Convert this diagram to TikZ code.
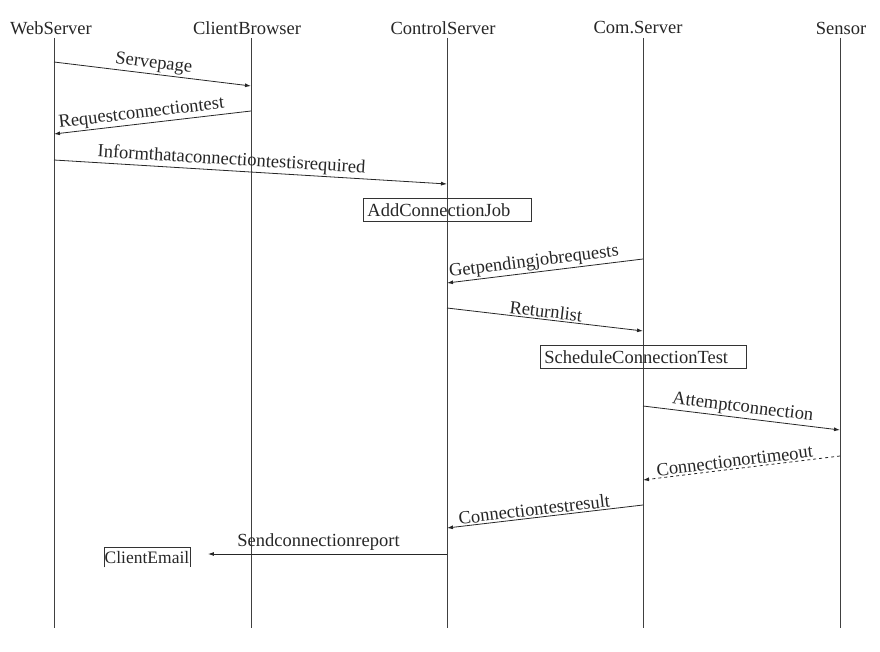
\documentclass[tikz,border=0pt]{standalone}
\usepackage{fontspec}
\setmainfont{Liberation Serif}
\usetikzlibrary{arrows.meta}
\begin{document}
\begin{tikzpicture}[x=1pt,y=-1pt,
  every node/.style={font=\fontsize{18.5}{21}\selectfont, text=black!85},
  life/.style={draw=black!75, line width=0.9pt},
  msg/.style={draw=black!85, line width=0.8pt, -{Latex[length=6pt,width=4pt]}},
  lbl/.style={sloped, above, inner sep=1.5pt},
  actbox/.style={draw=black!80, line width=0.8pt, align=left, inner sep=4pt, minimum height=23pt, anchor=north west},
  head/.style={inner sep=0pt}]
\useasboundingbox (0,0) rectangle (880,652);
% headers
\node[head] (hws) at (51,28) {WebServer};
\node[head] (hcb) at (247,28) {ClientBrowser};
\node[head] (hcs) at (443,28) {ControlServer};
\node[head] (hcm) at (638,28) {Com.Server};
\node[head] (hse) at (841,28) {Sensor};
% lifelines
\coordinate (ws0) at (54,38);  \coordinate (wsE) at (54,628);
\coordinate (cb0) at (251,38); \coordinate (cbE) at (251,628);
\coordinate (cs0) at (447,38); \coordinate (csE) at (447,628);
\coordinate (cm0) at (643,38); \coordinate (cmE) at (643,628);
\coordinate (se0) at (840,38); \coordinate (seE) at (840,628);
\draw[life] (ws0) -- (wsE);
\draw[life] (cb0) -- (cbE);
\draw[life] (cs0) -- (csE);
\draw[life] (cm0) -- (cmE);
\draw[life] (se0) -- (seE);
% message end points
\coordinate (m1a) at (54,62);   \coordinate (m1b) at (251,86);
\coordinate (m2a) at (251,111); \coordinate (m2b) at (54,134);
\coordinate (m3a) at (54,160);  \coordinate (m3b) at (447,184);
\coordinate (m5a) at (643,259); \coordinate (m5b) at (447,283);
\coordinate (m6a) at (447,308); \coordinate (m6b) at (643,331);
\coordinate (m8a) at (643,406); \coordinate (m8b) at (840,430);
\coordinate (m9a) at (840,456); \coordinate (m9b) at (643,480);
\coordinate (m10a) at (643,505); \coordinate (m10b) at (447,528);
\coordinate (m11a) at (447,554);
% activity boxes
\node[actbox, text width=160pt] (acj) at (363,198) {AddConnectionJob};
\node[actbox, text width=198pt] (sct) at (540,345) {ScheduleConnectionTest};
% client email box (open at bottom)
\node[anchor=north west, inner xsep=0.5pt, inner ysep=1pt, minimum height=20pt, align=left, font=\fontsize{17.5}{20}\selectfont] (ce) at (104,547) {ClientEmail};
\draw[draw=black!80, line width=0.8pt] (ce.south west) -- (ce.north west) -- (ce.north east) -- (ce.south east);
% messages
\draw[msg] (m1a) -- node[lbl] {Servepage} (m1b);
\draw[msg] (m2a) -- node[lbl, pos=0.55] {Requestconnectiontest} (m2b);
\draw[msg] (m3a) -- node[lbl, pos=0.45] {Informthataconnectiontestisrequired} (m3b);
\draw[msg] (m5a) -- node[lbl, pos=0.55] {Getpendingjobrequests} (m5b);
\draw[msg] (m6a) -- node[lbl] {Returnlist} (m6b);
\draw[msg] (m8a) -- node[lbl] {Attemptconnection} (m8b);
\draw[msg, dashed] (m9a) -- node[lbl, pos=0.53] {Connectionortimeout} (m9b);
\draw[msg] (m10a) -- node[lbl, pos=0.55] {Connectiontestresult} (m10b);
\draw[msg, shorten >=18pt] (m11a) -- node[above, pos=0.5, inner sep=3pt] {Sendconnectionreport} (m11a -| ce.east);
\end{tikzpicture}
\end{document}
